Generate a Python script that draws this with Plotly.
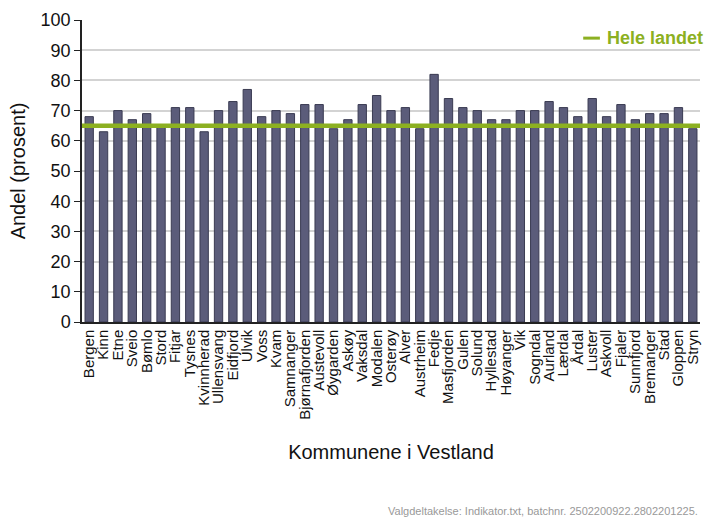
import plotly.graph_objects as go

kommuner = ["Bergen", "Kinn", "Etne", "Sveio", "Bømlo", "Stord", "Fitjar", "Tysnes",
            "Kvinnherad", "Ullensvang", "Eidfjord", "Ulvik", "Voss", "Kvam", "Samnanger",
            "Bjørnafjorden", "Austevoll", "Øygarden", "Askøy", "Vaksdal", "Modalen",
            "Osterøy", "Alver", "Austrheim", "Fedje", "Masfjorden", "Gulen", "Solund",
            "Hyllestad", "Høyanger", "Vik", "Sogndal", "Aurland", "Lærdal", "Årdal",
            "Luster", "Askvoll", "Fjaler", "Sunnfjord", "Bremanger", "Stad", "Gloppen",
            "Stryn"]
andel = [68, 63, 70, 67, 69, 65, 71, 71,
         63, 70, 73, 77, 68, 70, 69,
         72, 72, 64, 67, 72, 75,
         70, 71, 64, 82, 74, 71, 70,
         67, 67, 70, 70, 73, 71, 68,
         74, 68, 72, 67, 69, 69, 71,
         64]
hele_landet = 65
y_ticks = [0, 10, 20, 30, 40, 50, 60, 70, 80, 90, 100]

green = "#8cb021"
font = "Liberation Sans, Arial, sans-serif"

fig = go.Figure()
fig.add_trace(go.Bar(
    x=kommuner, y=andel,
    marker=dict(color="#5b5c7a", line=dict(color="#3a3b52", width=1)),
    showlegend=False, hoverinfo="x+y",
))

fig.add_shape(type="line", xref="paper", yref="y", x0=0, x1=1,
              y0=hele_landet, y1=hele_landet,
              line=dict(color=green, width=4.5))

# legend
fig.add_shape(type="line", xref="paper", yref="paper", x0=0.811, x1=0.838,
              y0=0.94, y1=0.94, line=dict(color=green, width=3))
fig.add_annotation(xref="paper", yref="paper", x=0.846, y=0.94,
                   text="<b>Hele landet</b>", showarrow=False,
                   xanchor="left", yanchor="middle",
                   font=dict(color=green, size=18, family=font))

fig.add_annotation(xref="paper", yref="paper", x=1.0, y=-0.625,
                   text="Valgdeltakelse: Indikator.txt, batchnr. 2502200922.2802201225.",
                   showarrow=False, xanchor="right", yanchor="middle",
                   font=dict(color="#999999", size=11, family=font))

fig.update_layout(
    width=707, height=521,
    margin=dict(l=82, r=7, t=20, b=199),
    paper_bgcolor="white", plot_bgcolor="white",
    bargap=0.42,
    font=dict(family=font, color="#111111"),
    xaxis=dict(
        title=dict(text="Kommunene i Vestland", font=dict(size=20), standoff=26),
        tickmode="array", tickvals=kommuner, ticktext=kommuner,
        tickangle=-90, tickfont=dict(size=15), showgrid=False,
        showline=True, linecolor="#222222", linewidth=1.5,
        ticks="", automargin=False,
    ),
    yaxis=dict(
        title=dict(text="Andel (prosent)", font=dict(size=20), standoff=10),
        range=[0, 100], tickvals=y_ticks, tickfont=dict(size=18),
        showgrid=True, gridcolor="#d3d3d3", gridwidth=1.5,
        showline=True, linecolor="#222222", linewidth=1.5,
        ticks="outside", ticklen=6, tickcolor="#222222",
        zeroline=False, automargin=False,
    ),
)

fig.write_html("out.html", config={"displayModeBar": False},
               post_script="document.body.style.margin='0';")
